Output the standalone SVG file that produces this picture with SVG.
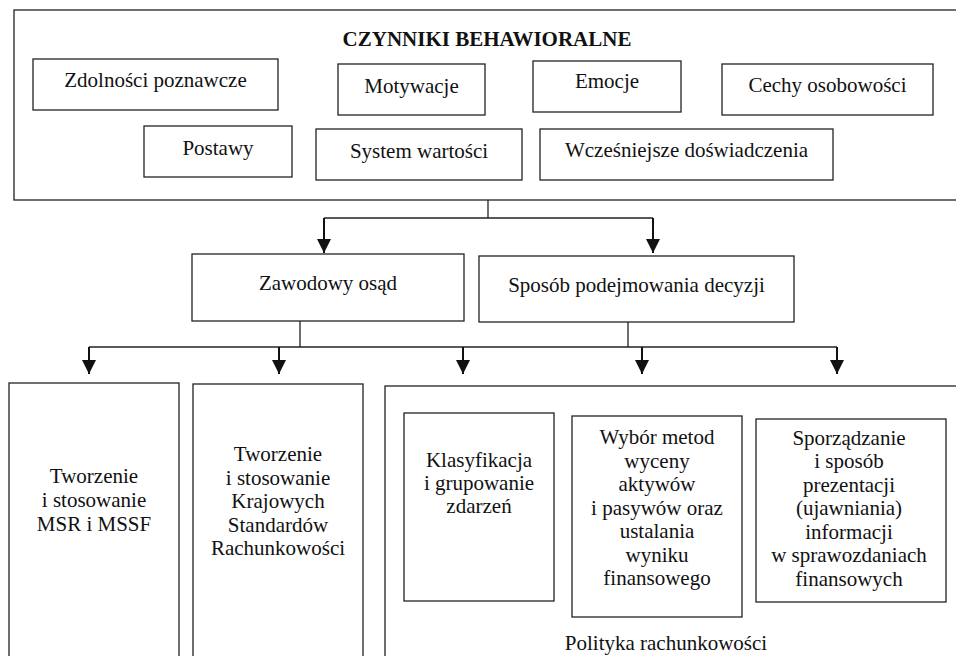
<svg xmlns="http://www.w3.org/2000/svg" width="956" height="656" viewBox="0 0 956 656">
<defs>
<style>
.bx{fill:#fff;stroke:#222;stroke-width:1.3}
.t{font-family:"Liberation Serif","Times New Roman",serif;font-size:21px;fill:#111;text-anchor:middle}
.tb{font-weight:bold}
.ln{stroke:#222;stroke-width:1.3;fill:none}
.ar{stroke:#111;stroke-width:2;fill:none;marker-end:url(#ah)}
</style>
<marker id="ah" markerUnits="userSpaceOnUse" markerWidth="14" markerHeight="14" refX="13" refY="6.5" orient="auto" viewBox="0 0 13 13">
<path d="M0,0 L13,6.5 L0,13 z" fill="#111"/>
</marker>
</defs>
<rect width="956" height="656" fill="#fff"/>

<g id="czynniki">
<rect class="bx" x="14" y="10" width="950" height="190"/>
<text class="t tb" x="487" y="46">CZYNNIKI BEHAWIORALNE</text>
</g>
<g id="zdolnosci"><rect class="bx" x="33" y="59" width="245" height="51"/><text class="t" x="155.5" y="87">Zdolności poznawcze</text></g>
<g id="motywacje"><rect class="bx" x="338" y="64" width="147" height="51"/><text class="t" x="411.5" y="93">Motywacje</text></g>
<g id="emocje"><rect class="bx" x="533" y="61" width="148" height="51"/><text class="t" x="607" y="88">Emocje</text></g>
<g id="cechy"><rect class="bx" x="722" y="64" width="211" height="51"/><text class="t" x="827.5" y="92">Cechy osobowości</text></g>
<g id="postawy"><rect class="bx" x="144" y="126" width="148" height="51"/><text class="t" x="218" y="155">Postawy</text></g>
<g id="system"><rect class="bx" x="316" y="129" width="206" height="51"/><text class="t" x="419" y="158">System wartości</text></g>
<g id="wczesniejsze"><rect class="bx" x="540" y="129" width="293" height="51"/><text class="t" x="686.5" y="157">Wcześniejsze doświadczenia</text></g>

<g id="zawodowy"><rect class="bx" x="192" y="254" width="272" height="67"/><text class="t" x="328" y="290">Zawodowy osąd</text></g>
<g id="sposob"><rect class="bx" x="479" y="256" width="315" height="66"/><text class="t" x="636.5" y="292">Sposób podejmowania decyzji</text></g>

<g id="msr"><rect class="bx" x="9" y="383" width="170" height="300"/>
<text class="t" x="94"><tspan x="94" y="483">Tworzenie</tspan><tspan x="94" y="507">i stosowanie</tspan><tspan x="94" y="531">MSR i MSSF</tspan></text></g>
<g id="ksr"><rect class="bx" x="193" y="384" width="170" height="300"/>
<text class="t" x="278"><tspan x="278" y="461">Tworzenie</tspan><tspan x="278" y="484.5">i stosowanie</tspan><tspan x="278" y="508">Krajowych</tspan><tspan x="278" y="531.5">Standardów</tspan><tspan x="278" y="555">Rachunkowości</tspan></text></g>

<g id="polityka"><rect class="bx" x="385" y="386" width="600" height="300"/>
<text class="t" x="666" y="650">Polityka rachunkowości</text></g>
<g id="klasyfikacja"><rect class="bx" x="404" y="413" width="150" height="188"/>
<text class="t" x="479"><tspan x="479" y="467">Klasyfikacja</tspan><tspan x="479" y="490">i grupowanie</tspan><tspan x="479" y="513">zdarzeń</tspan></text></g>
<g id="wybor"><rect class="bx" x="572" y="416" width="170" height="201"/>
<text class="t" x="657"><tspan x="657" y="444">Wybór metod</tspan><tspan x="657" y="467.5">wyceny</tspan><tspan x="657" y="491">aktywów</tspan><tspan x="657" y="514.5">i pasywów oraz</tspan><tspan x="657" y="538">ustalania</tspan><tspan x="657" y="561.5">wyniku</tspan><tspan x="657" y="585">finansowego</tspan></text></g>
<g id="sporzadzanie"><rect class="bx" x="756" y="419" width="190" height="183"/>
<text class="t" x="849"><tspan x="849" y="445">Sporządzanie</tspan><tspan x="849" y="468">i sposób</tspan><tspan x="849" y="491.5">prezentacji</tspan><tspan x="849" y="515">(ujawniania)</tspan><tspan x="849" y="538.5">informacji</tspan><tspan x="849" y="562">w sprawozdaniach</tspan><tspan x="849" y="585.5">finansowych</tspan></text></g>

<g id="connectors">
<line class="ln" x1="488" y1="200" x2="488" y2="218"/>
<line class="ln" x1="324" y1="218" x2="653" y2="218"/>
<line class="ar" x1="324" y1="218" x2="324" y2="253"/>
<line class="ar" x1="653" y1="218" x2="653" y2="253"/>
<line class="ln" x1="300" y1="321" x2="300" y2="347"/>
<line class="ln" x1="628" y1="322" x2="628" y2="347"/>
<line class="ln" x1="89" y1="347" x2="837" y2="347"/>
<line class="ar" x1="89" y1="347" x2="89" y2="374"/>
<line class="ar" x1="279" y1="347" x2="279" y2="374"/>
<line class="ar" x1="463" y1="347" x2="463" y2="374"/>
<line class="ar" x1="642" y1="347" x2="642" y2="374"/>
<line class="ar" x1="837" y1="347" x2="837" y2="374"/>
</g>
</svg>
